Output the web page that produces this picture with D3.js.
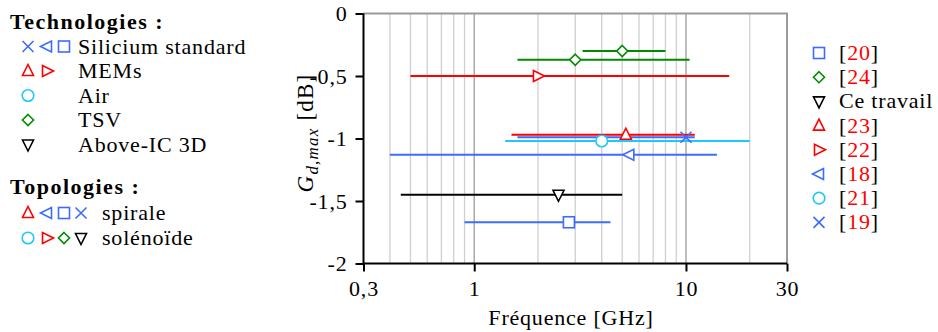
<!DOCTYPE html>
<html><head><meta charset="utf-8">
<script src="https://cdn.jsdelivr.net/npm/d3@7"></script>
</head>
<body style="margin:0"><svg id="c" width="938" height="332" font-family="Liberation Serif" style="display:block;font-family:'Liberation Serif'"></svg>
<script>
// ---- data ----
const seriesNames = ["[24]","[24]","[22]","[23]","[19]","[21]","[18]","Ce travail","[20]"];
const seriesMarker = ["diamond","diamond","triRight","triUp","cross","circle","triLeft","triDown","square"];
const seriesColor = ["green","green","red","red","blue","cyan","blue","black","blue"];
const fMin  = [3.25, 1.6, 0.5, 1.5, 1.6, 1.4, 0.4, 0.45, 0.9];
const fMax  = [8.0, 10.4, 16, 11, 11, 20, 14, 5.0, 4.4];
const fMark = [5.0, 3.0, 2.0, 5.2, 10, 4.0, 5.4, 2.5, 2.8];
const gMax  = [-0.30, -0.37, -0.50, -0.97, -0.99, -1.02, -1.13, -1.45, -1.67];

const xTicks = [0.3, 1, 10, 30];
const xTickLabels = ["0,3","1","10","30"];
const yTicks = [0, -0.5, -1, -1.5, -2];
const yTickLabels = ["0","-0,5","-1","-1,5","-2"];
const gridMinor = [0.4,0.5,0.6,0.7,0.8,0.9,2,3,4,5,6,7,8,9,20];
const gridMajor = [1,10];

const legendRefs = ["[20]","[24]","Ce travail","[23]","[22]","[18]","[21]","[19]"];
const legendRefMarker = ["square","diamond","triDown","triUp","triRight","triLeft","circle","cross"];
const legendRefColor = ["blue","green","black","red","red","blue","cyan","blue"];

const techLabels = ["Silicium standard","MEMs","Air","TSV","Above-IC 3D"];
const techMarkers = [["cross","triLeft","square"],["triUp","triRight"],["circle"],["diamond"],["triDown"]];
const techColors = [["blue","blue","blue"],["red","red"],["cyan"],["green"],["black"]];
const topoLabels = ["spirale","solénoïde"];
const topoMarkers = [["triUp","triLeft","square","cross"],["circle","triRight","diamond","triDown"]];
const topoColors = [["red","blue","blue","blue"],["cyan","red","green","black"]];

const palette = {blue:"#3d6bff", red:"#ff0000", green:"#008a00", cyan:"#1ec8ff", black:"#000000"};

// ---- layout ----
const svg = d3.select("#c");
const x = d3.scaleLog().domain([0.3,30]).range([363.5,787]);
const y = d3.scaleLinear().domain([0,-2]).range([13.5,263.5]);
const FS = 22;

function marker(g, type, cx, cy, color){
  const c = palette[color], s = 5.5;
  let p;
  switch(type){
    case "square": p = g.append("rect").attr("x",cx-s).attr("y",cy-s).attr("width",2*s).attr("height",2*s); break;
    case "circle": p = g.append("circle").attr("cx",cx).attr("cy",cy).attr("r",s+0.3); break;
    case "diamond": p = g.append("path").attr("d",`M${cx},${cy-s}L${cx+s},${cy}L${cx},${cy+s}L${cx-s},${cy}Z`); break;
    case "triUp": p = g.append("path").attr("d",`M${cx},${cy-s-1}L${cx+s},${cy+s-1}L${cx-s},${cy+s-1}Z`); break;
    case "triDown": p = g.append("path").attr("d",`M${cx},${cy+s+1}L${cx+s},${cy-s+1}L${cx-s},${cy-s+1}Z`); break;
    case "triRight": p = g.append("path").attr("d",`M${cx+s+1},${cy}L${cx-s+1},${cy-s}L${cx-s+1},${cy+s}Z`); break;
    case "triLeft": p = g.append("path").attr("d",`M${cx-s-1},${cy}L${cx+s-1},${cy-s}L${cx+s-1},${cy+s}Z`); break;
    case "cross": p = g.append("path").attr("d",`M${cx-s},${cy-s}L${cx+s},${cy+s}M${cx-s},${cy+s}L${cx+s},${cy-s}`); break;
  }
  p.attr("fill", type==="cross" ? "none" : "white").attr("stroke",c).attr("stroke-width",1.6);
}

// grid
const grid = svg.append("g");
grid.selectAll("line.minor").data(gridMinor).join("line")
  .attr("x1",d=>x(d)).attr("x2",d=>x(d)).attr("y1",y(0)).attr("y2",y(-2))
  .attr("stroke","#cfcfcf").attr("stroke-width",1.3);
grid.selectAll("line.major").data(gridMajor).join("line")
  .attr("x1",d=>x(d)).attr("x2",d=>x(d)).attr("y1",y(0)).attr("y2",y(-2))
  .attr("stroke","#a8a8a8").attr("stroke-width",1.5);
// frame top/right
svg.append("path").attr("d",`M${x(0.3)},${y(0)}H${x(30)}V${y(-2)}`)
  .attr("fill","none").attr("stroke","#9a9a9a").attr("stroke-width",2);

// data lines
const dg = svg.append("g");
seriesNames.forEach((n,i)=>{
  dg.append("line").attr("x1",x(fMin[i])).attr("x2",x(fMax[i]))
    .attr("y1",y(gMax[i])).attr("y2",y(gMax[i]))
    .attr("stroke",palette[seriesColor[i]]).attr("stroke-width",2);
});
seriesNames.forEach((n,i)=>{
  marker(dg, seriesMarker[i], x(fMark[i]), y(gMax[i]), seriesColor[i]);
});

// axes
const xAxis = d3.axisBottom(x).tickValues(xTicks).tickFormat((d,i)=>xTickLabels[i]).tickSizeOuter(0).tickSize(8).tickPadding(9);
const gx = svg.append("g").attr("transform",`translate(0,${y(-2)})`).call(xAxis);
const yAxis = d3.axisLeft(y).tickValues(yTicks).tickFormat((d,i)=>yTickLabels[i]).tickSizeOuter(0).tickSize(8).tickPadding(8);
const gy = svg.append("g").attr("transform",`translate(${x(0.3)},0)`).call(yAxis);
[gx,gy].forEach(g=>{
  g.attr("font-family","Liberation Serif").attr("font-size",FS);
  g.select(".domain").attr("stroke","#000").attr("stroke-width",2);
  g.selectAll(".tick line").attr("stroke","#000").attr("stroke-width",2);
  g.selectAll("text").attr("font-size",FS).attr("fill","#000");
});
gy.select(".domain").attr("d",`M0,${y(-2)}V${y(0)}`);
gx.select(".domain").attr("d",`M${x(0.3)},0H${x(30)}`);

// axis titles
svg.append("text").attr("x",571).attr("y",325).attr("text-anchor","middle").attr("font-size",FS).text("Fréquence [GHz]");
const yl = svg.append("text").attr("class","ylab").attr("transform","translate(313,133) rotate(-90)").attr("text-anchor","middle").attr("font-size",23);
yl.append("tspan").attr("font-style","italic").text("G");
yl.append("tspan").attr("font-style","italic").attr("font-size",17).attr("dy",5).text("d,max");
yl.append("tspan").attr("dy",-5).text(" [dB]");

// right legend
const rl = svg.append("g");
legendRefs.forEach((r,i)=>{
  const yy = 53 + i*24.2;
  marker(rl, legendRefMarker[i], 819, yy, legendRefColor[i]);
  const t = rl.append("text").attr("x",839).attr("y",yy+7).attr("font-size",FS);
  if(r.startsWith("[")){
    t.append("tspan").text("[");
    t.append("tspan").attr("fill","#ff0000").text(r.slice(1,-1));
    t.append("tspan").text("]");
  } else t.text(r);
});

// left legend
const ll = svg.append("g");
const mx = [28,47,64,81];
ll.append("text").attr("x",10).attr("y",29).attr("font-size",FS).attr("font-weight","bold").attr("class","bold").text("Technologies :");
techLabels.forEach((t,i)=>{
  const yy = 46.5 + i*24.5;
  techMarkers[i].forEach((m,j)=>marker(ll,m,mx[j],yy,techColors[i][j]));
  ll.append("text").attr("x",78).attr("y",yy+7).attr("font-size",FS).text(t);
});
ll.append("text").attr("x",10).attr("y",194).attr("font-size",FS).attr("font-weight","bold").attr("class","bold").text("Topologies :");
topoLabels.forEach((t,i)=>{
  const yy = 213 + i*25;
  topoMarkers[i].forEach((m,j)=>marker(ll,m,mx[j],yy,topoColors[i][j]));
  ll.append("text").attr("x",102).attr("y",yy+7).attr("font-size",FS).text(t);
});

svg.selectAll("text").attr("font-family","Liberation Serif").style("font-family",'"Liberation Serif"').style("letter-spacing","0.8px");
svg.selectAll("text.bold").style("letter-spacing","1.5px");
svg.selectAll("text.ylab").style("letter-spacing","1.2px");
</script></body></html>
